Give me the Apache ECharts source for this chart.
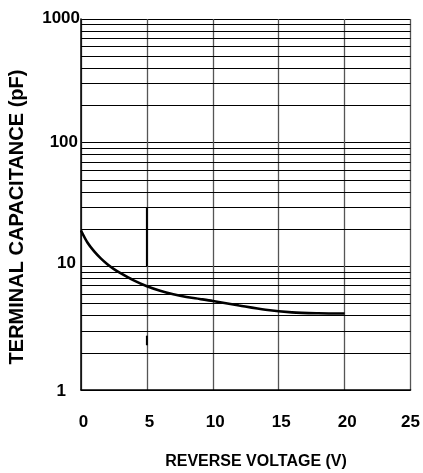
<!DOCTYPE html>
<html>
<head>
<meta charset="utf-8">
<script src="https://cdn.jsdelivr.net/npm/echarts@6/dist/echarts.min.js"></script>
<style>
html,body{margin:0;padding:0;background:#fff;}
#chart{width:423px;height:473px;}
</style>
</head>
<body>
<div id="chart"></div>
<script>
// ---- data ----
const voltage = [0, 0.5, 1, 1.5, 2, 2.5, 3, 4, 5, 6, 7, 8, 9, 10, 12, 14, 16, 18, 20];
const capacitance = [19.5, 15.5, 13.2, 11.6, 10.4, 9.5, 8.8, 7.7, 6.9, 6.35, 5.95, 5.65, 5.45, 5.25, 4.82, 4.45, 4.24, 4.17, 4.15];
const xTicks = [0, 5, 10, 15, 20, 25];
const yTicks = [1, 10, 100, 1000];
const minorGrid = [2, 3, 4, 5, 6, 7, 8, 9, 20, 30, 40, 50, 60, 70, 80, 90, 200, 300, 400, 500, 600, 700, 800, 900];
const markerV = [5, 5];
const markerUpper = [30, 10];
const markerLower = [2.75, 2.3];
const xTitle = 'REVERSE VOLTAGE (V)';
const yTitle = 'TERMINAL CAPACITANCE (pF)';

const FONT = '"Liberation Sans", Arial, sans-serif';

const chart = echarts.init(document.getElementById('chart'), null, {renderer: 'canvas'});
const curve = voltage.map((v, i) => [v, capacitance[i]]);
const upper = markerV.map((v, i) => [v, markerUpper[i]]);
const lower = markerV.map((v, i) => [v, markerLower[i]]);

chart.setOption({
  animation: false,
  backgroundColor: '#fff',
  grid: {left: 81, right: 11, top: 19, bottom: 83, containLabel: false},
  xAxis: {
    type: 'value', min: xTicks[0], max: xTicks[xTicks.length - 1], interval: 5,
    axisLine: {show: true, lineStyle: {color: '#000', width: 1.5}},
    axisTick: {show: false},
    splitLine: {show: true, lineStyle: {color: '#555', width: 1.3}},
    axisLabel: {
      margin: 24, color: '#000', fontFamily: FONT, fontWeight: 'bold', fontSize: 17,
      formatter: v => v === 25 ? '{r|25}' : (xTicks.includes(v) ? '{n|' + v + '}' : ''),
      rich: {
        n: {fontFamily: FONT, fontWeight: 'bold', fontSize: 17, color: '#000', padding: [0, 0, 0, 5]},
        r: {fontFamily: FONT, fontWeight: 'bold', fontSize: 17, color: '#000', padding: [0, 0, 0, 0]}
      }
    }
  },
  yAxis: {
    type: 'log', logBase: 10, min: yTicks[0], max: yTicks[yTicks.length - 1],
    axisLine: {show: true, lineStyle: {color: '#000', width: 1.5}},
    axisTick: {show: false},
    splitLine: {show: true, lineStyle: {color: '#000', width: 1.2}},
    axisLabel: {
      margin: 1, color: '#000', fontFamily: FONT, fontWeight: 'bold', fontSize: 17,
      formatter: v => v === 1 ? '{one|1}' : (v === 10 ? '{ten|10}' : (v === 1000 ? '{k|1000}' : '{n|' + v + '}')),
      rich: {
        one: {fontFamily: FONT, fontWeight: 'bold', fontSize: 17, color: '#000', padding: [2, 14, 0, 0]},
        ten: {fontFamily: FONT, fontWeight: 'bold', fontSize: 17, color: '#000', padding: [0, 4, 6, 0]},
        k: {fontFamily: FONT, fontWeight: 'bold', fontSize: 17, color: '#000', padding: [0, 0, 2, 0]},
        n: {fontFamily: FONT, fontWeight: 'bold', fontSize: 17, color: '#000', padding: [0, 2, 0, 0]}
      }
    }
  },
  series: [
    {
      type: 'line', data: curve, smooth: 0.3, showSymbol: false, symbol: 'none',
      lineStyle: {color: '#000', width: 2.6}, z: 5,
      markLine: {
        silent: true, symbol: 'none', label: {show: false},
        lineStyle: {color: '#000', width: 1, type: 'solid'},
        emphasis: {disabled: true},
        data: minorGrid.map(v => ({yAxis: v}))
      }
    },
    {type: 'line', data: upper, showSymbol: false, symbol: 'none', lineStyle: {color: '#000', width: 2}, z: 4},
    {type: 'line', data: lower, showSymbol: false, symbol: 'none', lineStyle: {color: '#000', width: 2}, z: 4}
  ],
  graphic: [
    {
      type: 'text', x: 256, y: 462,
      style: {text: xTitle, font: 'bold 16px ' + FONT, fill: '#000', textAlign: 'center', textVerticalAlign: 'middle'}
    },
    {
      type: 'text', x: 17, y: 217, rotation: Math.PI / 2,
      style: {text: yTitle, font: 'bold 20px ' + FONT, fill: '#000', textAlign: 'center', textVerticalAlign: 'middle'}
    }
  ]
});
</script>
</body>
</html>
